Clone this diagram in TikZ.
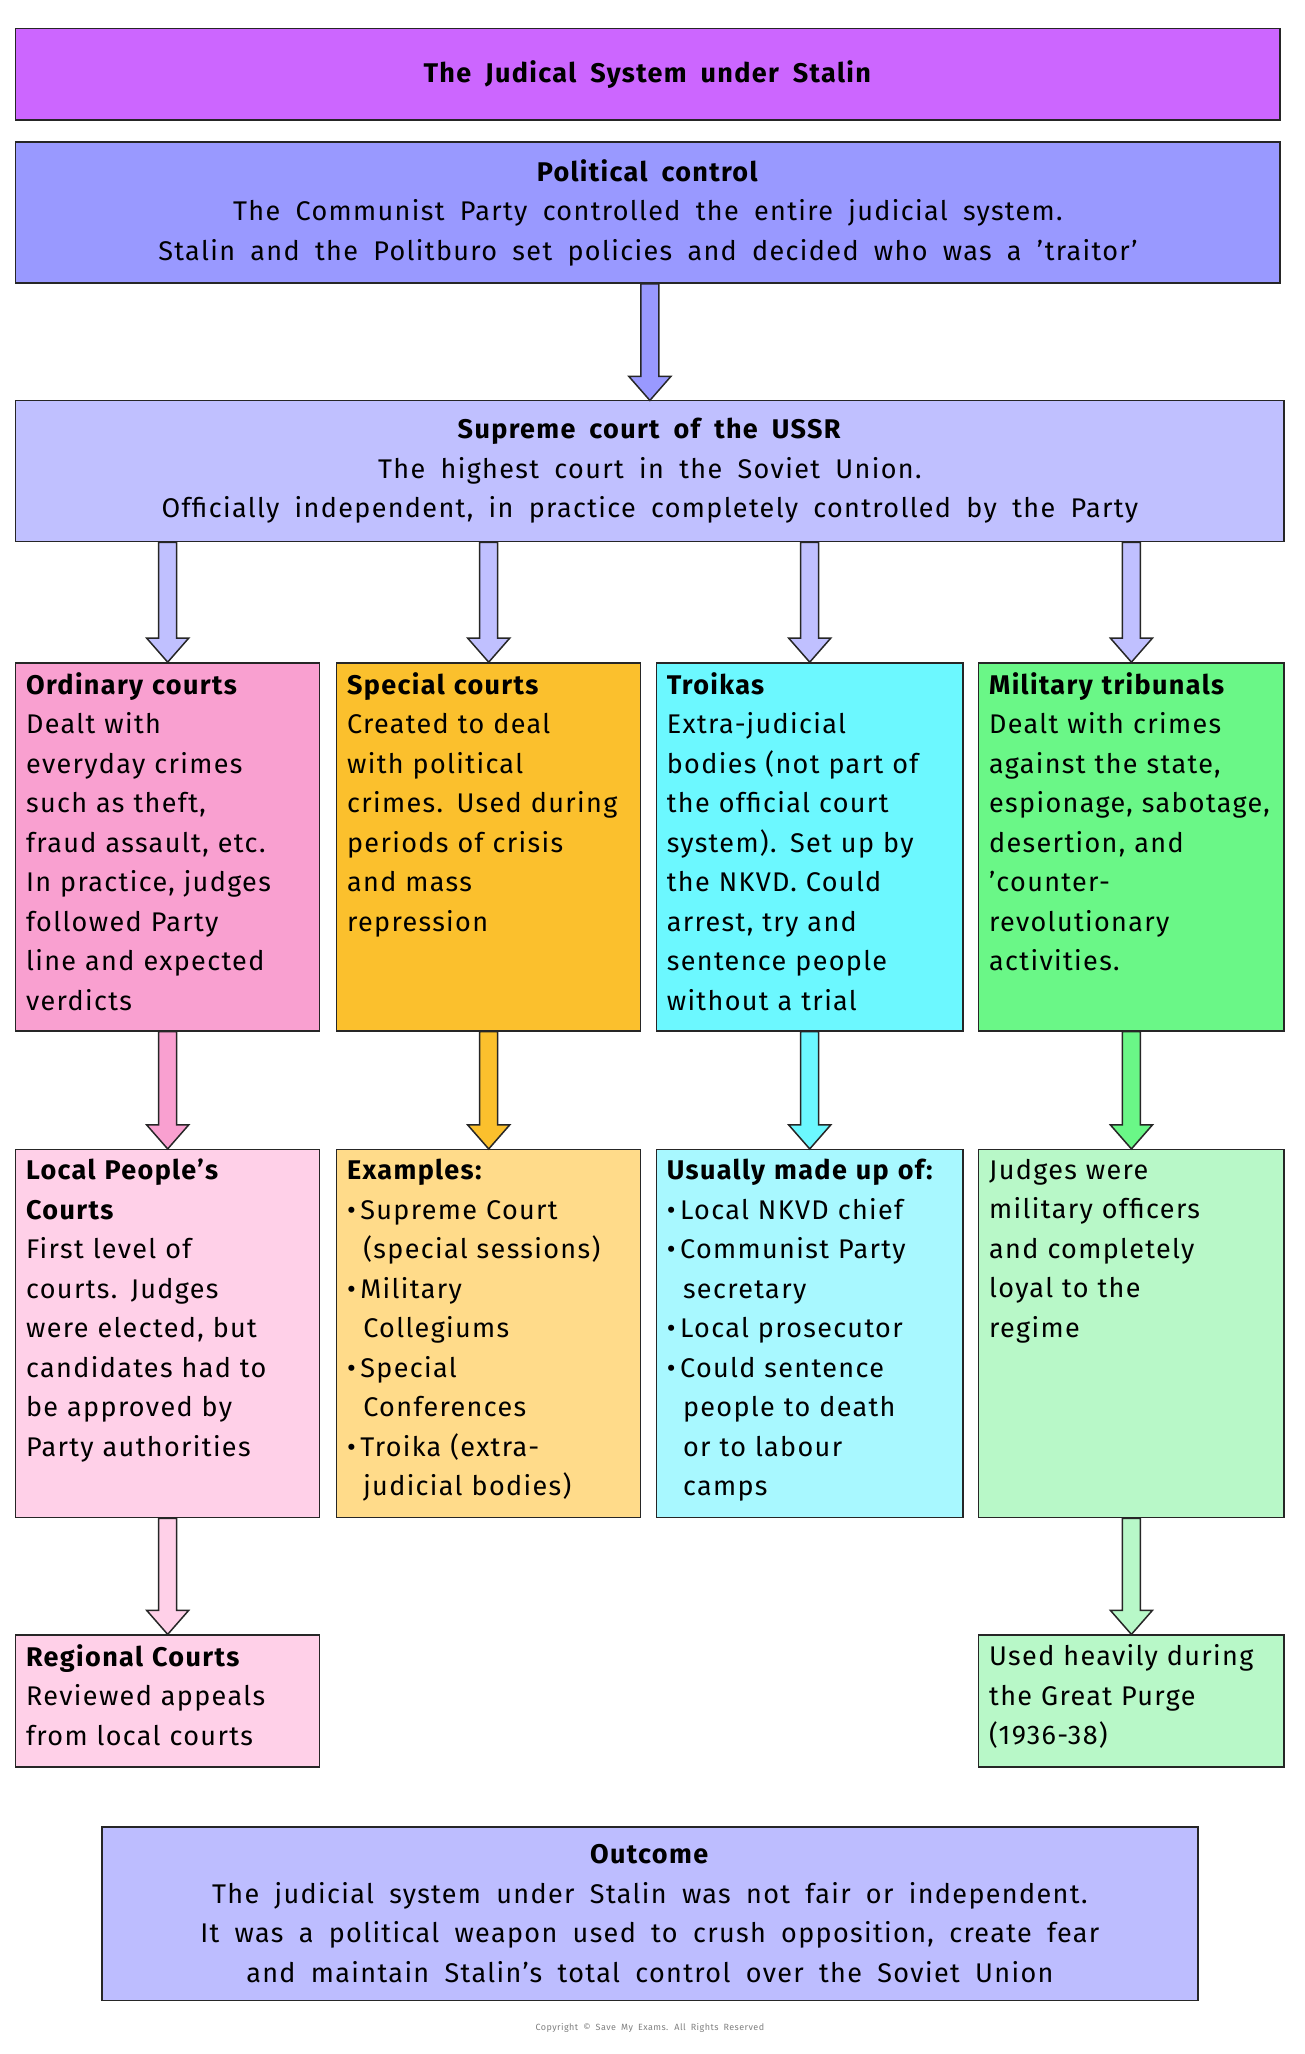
\documentclass[tikz,border=0pt]{standalone}
\usepackage{fontspec}
\setmainfont{Fira Sans}[LetterSpace=5,WordSpace={1.8,0,0}]
\usetikzlibrary{fit,calc}
\definecolor{ctitle}{HTML}{CC66FF}
\definecolor{cpol}{HTML}{9999FF}
\definecolor{csup}{HTML}{C0C0FF}
\definecolor{cord}{HTML}{F9A0D0}
\definecolor{cspe}{HTML}{FBC02D}
\definecolor{ctro}{HTML}{6CF8FF}
\definecolor{cmil}{HTML}{6AF787}
\definecolor{cord2}{HTML}{FFD0E8}
\definecolor{cspe2}{HTML}{FFDB8A}
\definecolor{ctro2}{HTML}{A8F8FF}
\definecolor{cmil2}{HTML}{B8F8C8}
\definecolor{cout}{HTML}{BDBDFF}
\tikzset{frame/.style={draw=black!85,line width=1.5pt,inner sep=0pt},
 txt/.style={font=\fontsize{27}{39.5}\selectfont,inner sep=0pt}}
\newcommand\cbox[7]{\node (#1) [frame,fill=#6,fit={(#2,#3) (#4,#5)}] {};
 \node[txt,align=center] at (#1.center) {#7};}
\newcommand\lbox[7]{\node (#1) [frame,fill=#6,fit={(#2,#3) (#4,#5)}] {};
 \node[txt,anchor=north west,align=left,text width=310pt] at ($(#1.north west)+(11pt,-10pt)$) {#7};}
\newcommand\barr[3]{\path let \p1=(#2.north |- #1.south), \p2=(#2.north) in
 [draw=black!85,line width=1.5pt,fill=#3] (\x1-9pt,\y1) -- (\x1-9pt,\y2+24pt) -- (\x1-21pt,\y2+24pt) -- (\x1,\y2) -- (\x1+21pt,\y2+24pt) -- (\x1+9pt,\y2+24pt) -- (\x1+9pt,\y1) -- cycle;}
\begin{document}
\begin{tikzpicture}[x=1.305pt,y=-1.305pt]
\useasboundingbox[fill=white] (0,0) rectangle (1000,1574);
\cbox{title}{12}{22}{981}{92}{ctitle}{\textbf{The Judical System under Stalin}}
\cbox{pol}{12}{109}{981}{217}{cpol}{\textbf{Political control}\\The Communist Party controlled the entire judicial system.\\Stalin and the Politburo set policies and decided who was a 'traitor'}
\node (polarr) [inner sep=0,minimum size=0] at (498,307) {};
\cbox{sup}{12}{307}{984}{415}{csup}{\textbf{Supreme court of the USSR}\\The highest court in the Soviet Union.\\Officially independent, in practice completely controlled by the Party}
\lbox{ord}{12}{508}{245}{790}{cord}{\textbf{Ordinary courts}\\Dealt with\\everyday crimes\\such as theft,\\fraud assault, etc.\\In practice, judges\\followed Party\\line and expected\\verdicts}
\lbox{spe}{258}{508}{491}{790}{cspe}{\textbf{Special courts}\\Created to deal\\with political\\crimes. Used during\\periods of crisis\\and mass\\repression}
\lbox{tro}{503}{508}{738}{790}{ctro}{\textbf{Troikas}\\Extra-judicial\\bodies (not part of\\the official court\\system). Set up by\\the NKVD. Could\\arrest, try and\\sentence people\\without a trial}
\lbox{mil}{750}{508}{984}{790}{cmil}{\textbf{Military tribunals}\\Dealt with crimes\\against the state,\\espionage, sabotage,\\desertion, and\\'counter-\\revolutionary\\activities.}
\lbox{loc}{12}{881}{245}{1163}{cord2}{\textbf{Local People's}\\\textbf{Courts}\\First level of\\courts. Judges\\were elected, but\\candidates had to\\be approved by\\Party authorities}
\lbox{exa}{258}{881}{491}{1163}{cspe2}{\textbf{Examples:}\\\textbullet\,Supreme Court\\\hspace*{0.6em}(special sessions)\\\textbullet\,Military\\\hspace*{0.6em}Collegiums\\\textbullet\,Special\\\hspace*{0.6em}Conferences\\\textbullet\,Troika (extra-\\\hspace*{0.6em}judicial bodies)}
\lbox{usu}{503}{881}{738}{1163}{ctro2}{\textbf{Usually made up of:}\\\textbullet\,Local NKVD chief\\\textbullet\,Communist Party\\\hspace*{0.6em}secretary\\\textbullet\,Local prosecutor\\\textbullet\,Could sentence\\\hspace*{0.6em}people to death\\\hspace*{0.6em}or to labour\\\hspace*{0.6em}camps}
\lbox{jud}{750}{881}{984}{1163}{cmil2}{Judges were\\military officers\\and completely\\loyal to the\\regime}
\lbox{reg}{12}{1253}{245}{1354}{cord2}{\textbf{Regional Courts}\\Reviewed appeals\\from local courts}
\lbox{use}{750}{1253}{984}{1354}{cmil2}{Used heavily during\\the Great Purge\\(1936-38)}
\cbox{out}{78}{1400}{918}{1533}{cout}{\textbf{Outcome}\\The judicial system under Stalin was not fair or independent.\\It was a political weapon used to crush opposition, create fear\\and maintain Stalin's total control over the Soviet Union}
\node[font=\fontsize{9}{10}\selectfont,text=black!50] (copy) at (498,1554) {Copyright © Save My Exams. All Rights Reserved};
\barr{pol}{polarr}{cpol}
\barr{sup}{ord}{csup}\barr{sup}{spe}{csup}\barr{sup}{tro}{csup}\barr{sup}{mil}{csup}
\barr{ord}{loc}{cord}\barr{spe}{exa}{cspe}\barr{tro}{usu}{ctro}\barr{mil}{jud}{cmil}
\barr{loc}{reg}{cord2}\barr{jud}{use}{cmil2}
\end{tikzpicture}
\end{document}
